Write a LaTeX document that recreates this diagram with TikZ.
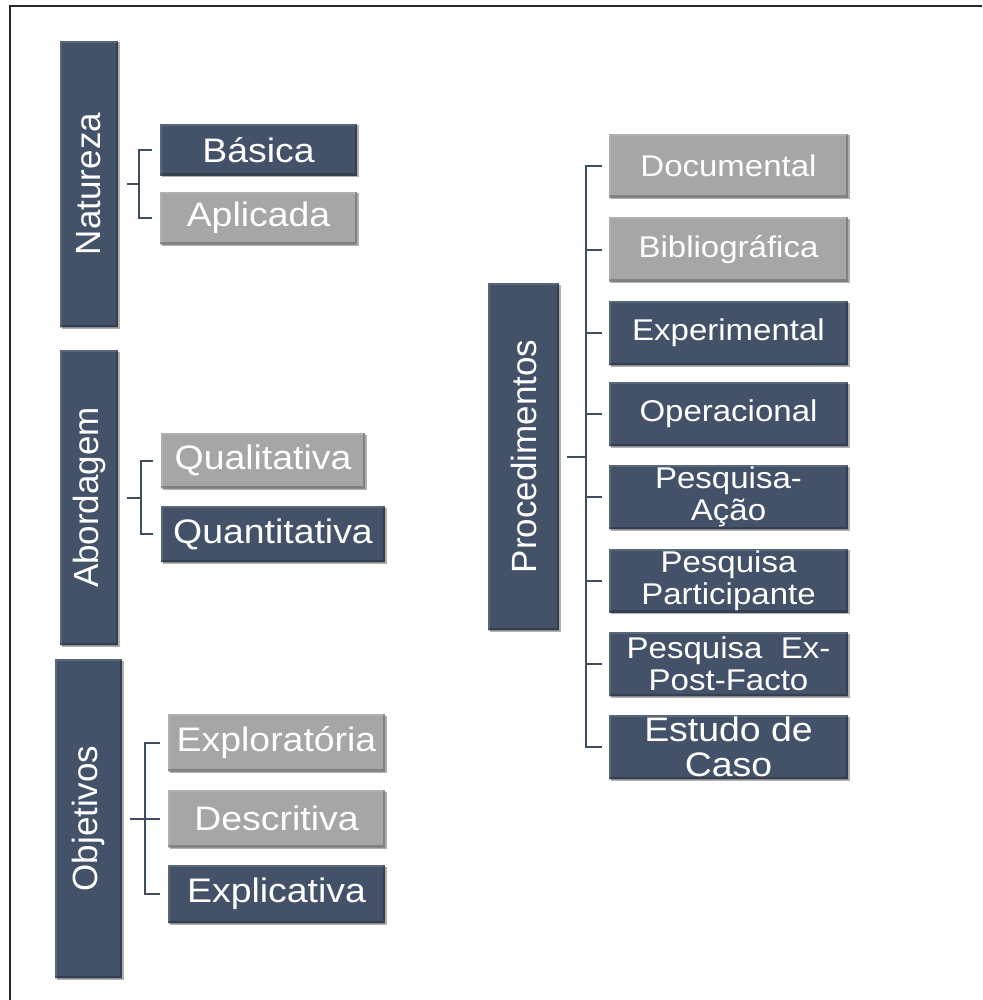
\documentclass[tikz,border=0pt]{standalone}
\usepackage{fontspec}
\setmainfont{Liberation Sans}
\newfontfamily\boxfont[FakeStretch=1.1]{Liberation Sans}
\usetikzlibrary{shadows}

\definecolor{navy}{RGB}{67,82,104}
\definecolor{lightgrey}{RGB}{166,166,166}
\definecolor{spine}{RGB}{62,76,98}
\definecolor{framegrey}{RGB}{40,40,40}

\tikzset{
  bevel/.style={
    path picture={
      \draw[line width=5pt, black, opacity=0.22]
        (path picture bounding box.north east) -- (path picture bounding box.south east)
        -- (path picture bounding box.south west);
      \draw[line width=4pt, white, opacity=0.12]
        (path picture bounding box.south west) -- (path picture bounding box.north west)
        -- (path picture bounding box.north east);
    }},
  tile/.style={rectangle, inner sep=0pt, text=white, bevel,
    drop shadow={shadow xshift=1.5pt, shadow yshift=-1.5pt, opacity=0.3, fill=black}},
  navybox/.style={tile, fill=navy},
  greybox/.style={tile, fill=lightgrey},
  leftfont/.style={font=\boxfont\fontsize{34}{36}\selectfont},
  rightfont/.style={font=\boxfont\fontsize{30}{32}\selectfont, align=center},
  titlebar/.style={navybox, rotate=90, font=\fontsize{35}{40}\selectfont},
  leftitem/.style={minimum height=#1, leftfont},
  rightitem/.style={minimum width=239pt, minimum height=64pt, rightfont},
  link/.style={draw=spine, line width=2pt},
}

\begin{document}
\begin{tikzpicture}[x=1pt, y=-1pt]
\useasboundingbox (0,0) rectangle (982,1000);

% frame edges
\draw[framegrey, line width=2pt] (10,1000) -- (10,6) -- (982,6);

% ---- Natureza ----
\node[titlebar, minimum width=286pt, minimum height=58pt] (nat) at (89,184) {Natureza};
\node[navybox, leftitem=52pt, minimum width=197pt] (bas) at (258.5,150) {Básica};
\node[greybox, leftitem=52pt, minimum width=197pt] (apl) at (258.5,218) {Aplicada};
\draw[link] ([xshift=-8pt]bas.west) -- ++(-13,0) |- ([xshift=-8pt]apl.west);
\draw[link] ([xshift=9pt]nat.south) -- ++(12,0);

% ---- Abordagem ----
\node[titlebar, minimum width=295pt, minimum height=58pt] (abo) at (89,497.5) {Abordagem};
\node[greybox, leftitem=55pt, minimum width=204pt] (qual) at (263,460.5) {Qualitativa};
\node[navybox, leftitem=56pt, minimum width=224pt] (quan) at (273,534) {Quantitativa};
\draw[link] ([xshift=-8pt]qual.west) -- ++(-12,0) |- ([xshift=-8pt]quan.west);
\draw[link] ([xshift=9pt]abo.south) -- ++(14,0);

% ---- Objetivos ----
\node[titlebar, minimum width=319pt, minimum height=67pt] (obj) at (88.5,818.5) {Objetivos};
\node[greybox, leftitem=57pt, minimum width=217pt] (exo) at (276.5,742.5) {Exploratória};
\node[greybox, leftitem=57pt, minimum width=217pt] (des) at (276.5,818.5) {Descritiva};
\node[navybox, leftitem=58pt, minimum width=217pt] (exi) at (276.5,894) {Explicativa};
\draw[link] ([xshift=-8pt]exo.west) -- ++(-15,0) |- ([xshift=-8pt]exi.west);
\draw[link] ([xshift=-8pt]des.west) -- ++(-15,0);
\draw[link] ([xshift=8pt]obj.south) -- ++(15,0);

% ---- Procedimentos ----
\node[titlebar, minimum width=347pt, minimum height=71pt] (pro) at (523.5,456.5) {Procedimentos};
\node[greybox, rightitem] (doc) at (728.5,166) {Documental};
\node[greybox, rightitem] (bib) at (728.5,249.5) {Bibliográfica};
\node[navybox, rightitem] (exp) at (728.5,333) {Experimental};
\node[navybox, rightitem] (ope) at (728.5,414) {Operacional};
\node[navybox, rightitem] (pac) at (728.5,497) {Pesquisa-\\Ação};
\node[navybox, rightitem] (ppa) at (728.5,580.5) {Pesquisa\\Participante};
\node[navybox, rightitem] (epf) at (728.5,664) {Pesquisa\ \ Ex-\\Post-Facto};
\node[navybox, rightitem, font=\boxfont\fontsize{34}{35}\selectfont] (edc) at (728.5,747) {Estudo de\\Caso};

\draw[link] ([xshift=-7pt]doc.west) -- ++(-16,0) |- ([xshift=-7pt]edc.west);
\foreach \b in {bib,exp,ope,pac,ppa,epf}
  \draw[link] ([xshift=-7pt]\b.west) -- ++(-16,0);
\draw[link] ([xshift=8pt]pro.south) -- ++(19,0);
\end{tikzpicture}
\end{document}
